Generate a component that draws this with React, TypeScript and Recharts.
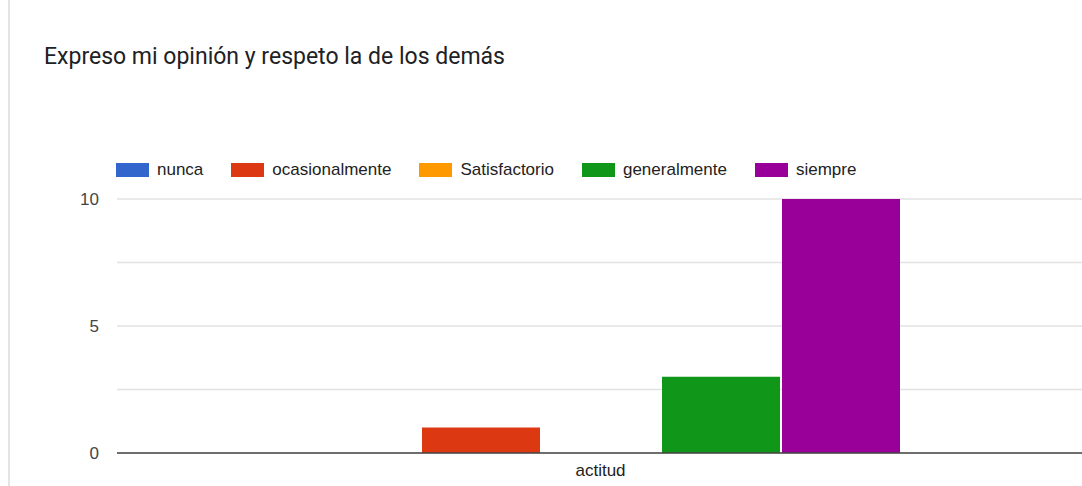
import { BarChart, Bar, XAxis, YAxis, CartesianGrid } from 'recharts';

const categories = ['actitud'];
const seriesNames = ['nunca', 'ocasionalmente', 'Satisfactorio', 'generalmente', 'siempre'];
const seriesValues = [0, 1, 0, 3, 10];
const seriesColors = ['#3366cc', '#dc3912', '#ff9900', '#109618', '#990099'];
const yTicks = [0, 2.5, 5, 7.5, 10];
const yLabels = ['0', '', '5', '', '10'];

const title = 'Expreso mi opinión y respeto la de los demás';

// one row per category, one key per series
const chartData = categories.map((name) => {
  const row: Record<string, string | number> = { name };
  seriesNames.forEach((s, i) => {
    row[s] = seriesValues[i];
  });
  return row;
});

const font = '"Liberation Sans", Arial, sans-serif';

export default function App() {
  return (
    <div
      style={{
        position: 'absolute',
        left: 0,
        top: 0,
        width: 1082,
        height: 486,
        overflow: 'hidden',
        background: '#fff',
        fontFamily: font,
      }}
    >
      <div
        style={{
          position: 'absolute',
          left: 8,
          top: 0,
          width: 2,
          height: 486,
          background: '#e6e4e1',
        }}
      />
      <div
        style={{
          position: 'absolute',
          left: 44,
          top: 45,
          fontFamily: 'Roboto, sans-serif',
          fontSize: 23,
          lineHeight: '23px',
          color: '#202124',
          whiteSpace: 'nowrap',
        }}
      >
        {title}
      </div>

      <div
        style={{
          position: 'absolute',
          left: 116,
          top: 160,
          display: 'flex',
          alignItems: 'center',
          fontSize: 17,
          color: '#222',
          whiteSpace: 'nowrap',
        }}
      >
        {seriesNames.map((s, i) => (
          <div key={s} style={{ display: 'flex', alignItems: 'center', marginRight: 28 }}>
            <span style={{ width: 33, height: 14, background: seriesColors[i], marginRight: 8 }} />
            <span>{s}</span>
          </div>
        ))}
      </div>

      <div style={{ position: 'absolute', left: 0, top: 0 }}>
        <BarChart
          width={1090}
          height={486}
          data={chartData}
          margin={{ top: 199, right: 6, bottom: 3, left: 0 }}
          barCategoryGap={185}
          barGap={2}
        >
          <CartesianGrid vertical={false} stroke="#e2e2e2" strokeWidth={1.5} />
          <XAxis
            dataKey="name"
            height={30}
            tickLine={false}
            tickSize={6}
            tickMargin={5}
            axisLine={{ stroke: '#444', strokeWidth: 1.5 }}
            tick={{ fill: '#222', fontSize: 17, fontFamily: font }}
          />
          <YAxis
            width={117}
            domain={[0, 10]}
            ticks={yTicks}
            interval={0}
            axisLine={false}
            tickLine={false}
            tickSize={8}
            tickMargin={10}
            tickFormatter={(v: number) => yLabels[yTicks.indexOf(v)] ?? ''}
            tick={{ fill: '#444', fontSize: 17, fontFamily: font }}
          />
          {seriesNames.map((s, i) => (
            <Bar key={s} dataKey={s} fill={seriesColors[i]} isAnimationActive={false} />
          ))}
        </BarChart>
      </div>
    </div>
  );
}
